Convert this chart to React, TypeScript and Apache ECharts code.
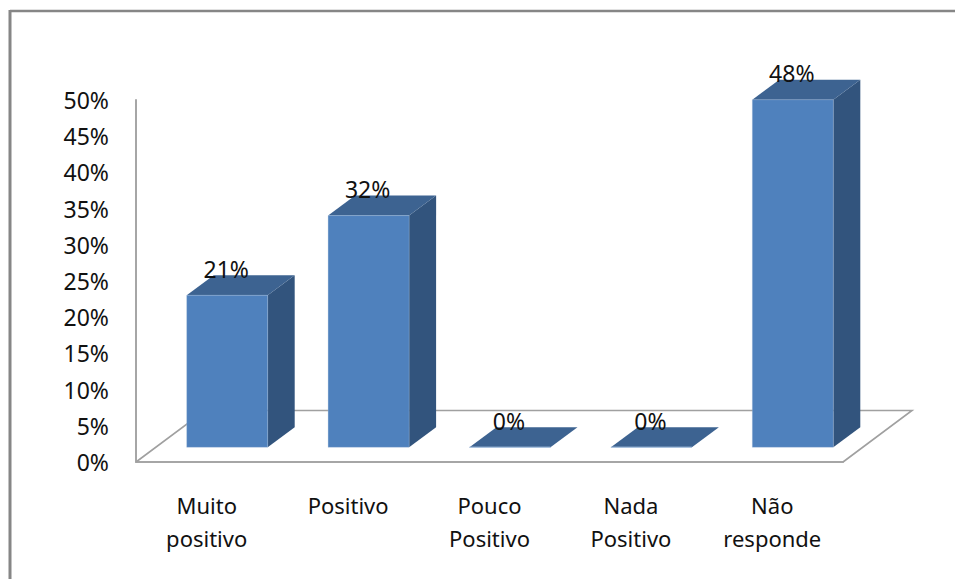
import React, { useEffect, useRef } from "react";
import * as echarts from "echarts";

const categories = ["Muito positivo", "Positivo", "Pouco Positivo", "Nada Positivo", "Não responde"];
const values = [21, 32, 0, 0, 48];
const yMax = 50;
const yStep = 5;

const FONT = "'Noto Sans', sans-serif";
const FONT_SIZE = 22;
const NUMBER_FONT_SIZE = 23;
const BAR_W = 81;
const SHIFT_X = 20.5;
const SHIFT_Y = -14.7;
const DEPTH_X = 27;
const DEPTH_Y = -20;

export default function App() {
  const ref = useRef<HTMLDivElement>(null);
  useEffect(() => {
    const chart = echarts.init(ref.current!, undefined, { renderer: "svg" });
    chart.setOption({
      animation: false,
      backgroundColor: "#ffffff",
      grid: { left: 136, right: 112, top: 100, bottom: 117, containLabel: false },
      graphic: [
        { type: "line", shape: { x1: 10, y1: 11, x2: 955, y2: 11 }, style: { stroke: "#868686", lineWidth: 2.5 } },
        { type: "line", shape: { x1: 10, y1: 10, x2: 10, y2: 579 }, style: { stroke: "#868686", lineWidth: 3 } },
      ],
      xAxis: {
        type: "category",
        data: categories,
        axisLine: { show: true, lineStyle: { color: "#a6a6a6", width: 2 } },
        axisTick: { show: false },
        axisLabel: {
          interval: 0,
          margin: 26,
          color: "#111111",
          fontFamily: FONT,
          fontSize: FONT_SIZE,
          lineHeight: 33,
          formatter: (v: string) => v.replace(" ", "\n"),
        },
      },
      yAxis: {
        type: "value",
        min: 0,
        max: yMax,
        interval: yStep,
        splitLine: { show: false },
        axisTick: { show: false },
        axisLine: { show: true, lineStyle: { color: "#a6a6a6", width: 2 } },
        axisLabel: {
          margin: 27,
          color: "#111111",
          fontFamily: FONT,
          fontSize: NUMBER_FONT_SIZE,
          formatter: "{value}%",
        },
      },
      series: [
        {
          type: "custom",
          name: "floor",
          silent: true,
          z: 1,
          data: [0],
          renderItem: (params: any) => {
            const c = params.coordSys;
            const y0 = c.y + c.height;
            const x0 = c.x;
            const x1 = c.x + c.width;
            const dx = 69;
            const dy = -51.5;
            return {
              type: "polyline",
              shape: {
                points: [
                  [x0, y0],
                  [x0 + dx, y0 + dy],
                  [x1 + dx, y0 + dy],
                  [x1, y0],
                ],
              },
              style: { stroke: "#a0a0a0", lineWidth: 1.6, fill: "none" },
            };
          },
        },
        {
          type: "custom",
          name: "values",
          z: 2,
          encode: { x: 0, y: 1 },
          data: values.map((v, i) => [i, v]),
          renderItem: (_params: any, api: any) => {
            const i = api.value(0);
            const v = api.value(1);
            const [cx, yTop] = api.coord([i, v]);
            const [, yBase] = api.coord([i, 0]);
            const l = cx + SHIFT_X - BAR_W / 2;
            const r = l + BAR_W;
            const t = yTop + SHIFT_Y;
            const b = yBase + SHIFT_Y;
            const children: any[] = [
              {
                type: "polygon",
                shape: { points: [[r, t], [r + DEPTH_X, t + DEPTH_Y], [r + DEPTH_X, b + DEPTH_Y], [r, b]] },
                style: { fill: "#32547d" },
              },
              {
                type: "polygon",
                shape: { points: [[l, t], [l + DEPTH_X, t + DEPTH_Y], [r + DEPTH_X, t + DEPTH_Y], [r, t]] },
                style: { fill: "#3d6391" },
              },
              {
                type: "rect",
                shape: { x: l, y: t, width: BAR_W, height: b - t },
                style: { fill: "#4f81bd", stroke: "#a9c1de", lineWidth: v === 0 ? 1 : 0.3 },
              },
              {
                type: "text",
                x: l + BAR_W / 2 - 1,
                y: t - 26.5,
                style: {
                  text: `${v}%`,
                  fontFamily: FONT,
                  fontSize: NUMBER_FONT_SIZE,
                  fill: "#111111",
                  align: "center",
                  verticalAlign: "middle",
                },
              },
            ];
            return { type: "group", children };
          },
        },
      ],
    });
    return () => chart.dispose();
  }, []);
  return <div ref={ref} style={{ position: "absolute", left: 0, top: 0, width: 955, height: 579 }} />;
}
